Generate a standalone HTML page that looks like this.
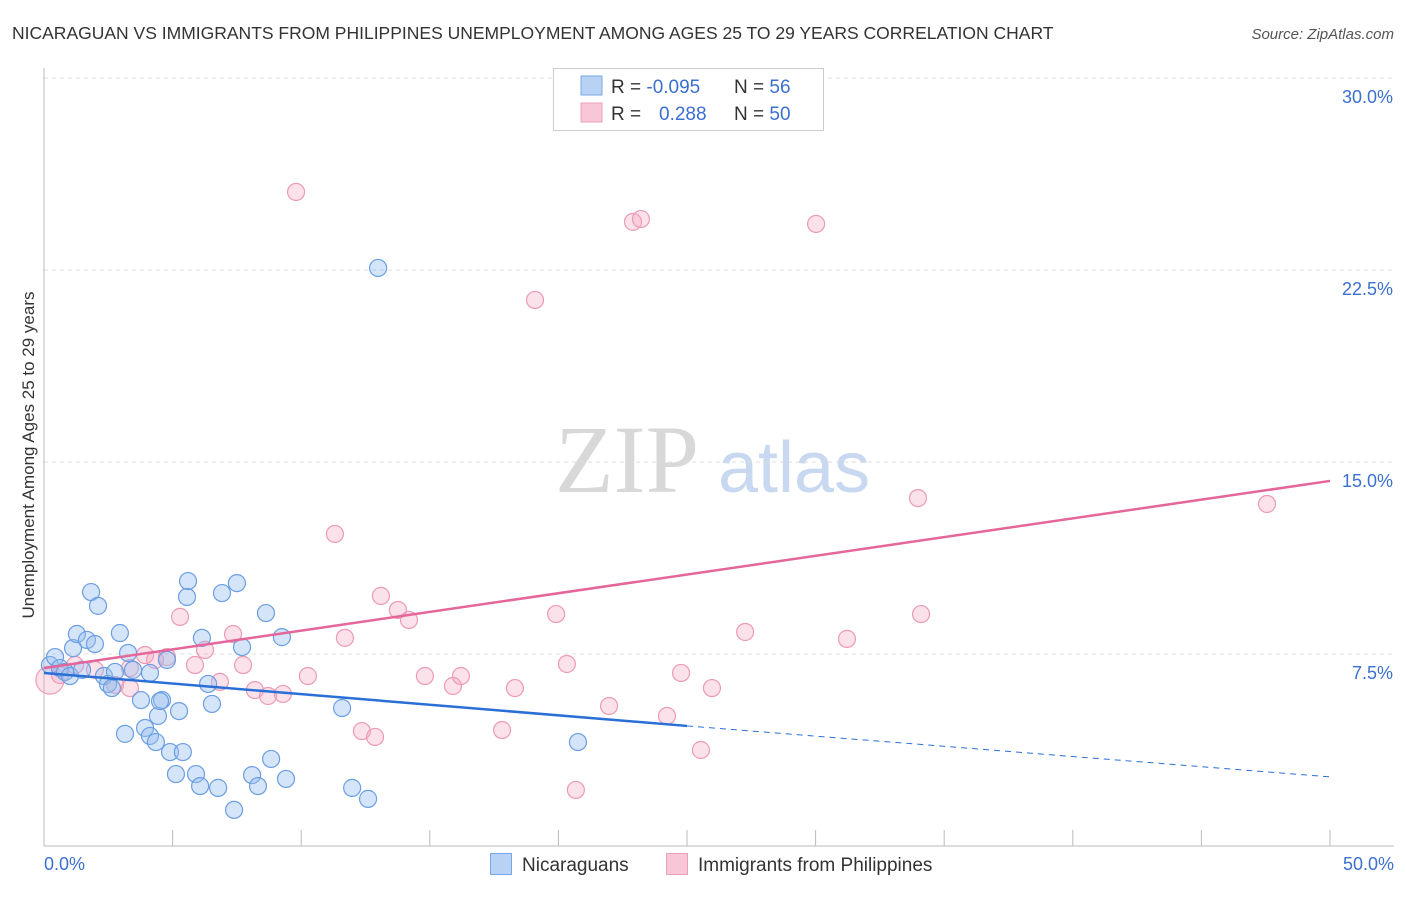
<!DOCTYPE html>
<html><head><meta charset="utf-8"><style>
body{margin:0;background:#fff;font-family:"Liberation Sans",sans-serif;}
#c{position:relative;width:1406px;height:892px;}
</style></head><body>
<div id="c">
<svg id="s" width="1406" height="892" xmlns="http://www.w3.org/2000/svg">
<text x="12" y="39" font-size="17.5" fill="#333">NICARAGUAN VS IMMIGRANTS FROM PHILIPPINES UNEMPLOYMENT AMONG AGES 25 TO 29 YEARS CORRELATION CHART</text>
<text x="1394" y="39" font-size="15" fill="#555" font-style="italic" text-anchor="end">Source: ZipAtlas.com</text>
<text x="555" y="492" font-size="96" fill="#d8d8d8" font-family="Liberation Serif,serif">ZIP</text>
<text x="718" y="492" font-size="72" fill="#c8d8f0">atlas</text>
<text transform="translate(34,455) rotate(-90)" font-size="17" fill="#333" text-anchor="middle">Unemployment Among Ages 25 to 29 years</text>
<g id="grid"></g><g id="pts"></g><g id="lines"></g>
<g>
<rect x="553.5" y="68.5" width="270" height="62" fill="#fff" stroke="#ccc"/>
<rect x="581" y="76" width="21" height="19" fill="#b8d2f4" stroke="#7aa8e6"/>
<rect x="581" y="103" width="21" height="19" fill="#f8c6d6" stroke="#eba0bb"/>
<text x="611" y="93" font-size="19" fill="#333">R = <tspan fill="#3b6fd0">-0.095</tspan><tspan x="734">N = </tspan><tspan fill="#3b6fd0">56</tspan></text>
<text x="611" y="120" font-size="19" fill="#333">R = <tspan x="659" fill="#3b6fd0">0.288</tspan><tspan x="734">N = </tspan><tspan fill="#3b6fd0">50</tspan></text>
</g>
<g>
<rect x="490.5" y="853.5" width="21" height="21" fill="#b8d2f4" stroke="#7aa8e6"/>
<text x="522" y="871" font-size="19" fill="#333">Nicaraguans</text>
<rect x="666.5" y="853.5" width="21" height="21" fill="#f8c6d6" stroke="#eba0bb"/>
<text x="698" y="871" font-size="19" fill="#333">Immigrants from Philippines</text>
</g>
</svg>
</div>
<script>
const yTicks=[7.5,15,22.5,30];
const yTickLabels=["7.5%","15.0%","22.5%","30.0%"];
const xTickLabels=["0.0%","50.0%"];
const blueX=[0.23,0.43,0.62,0.82,1.01,1.13,1.28,1.48,1.67,1.83,1.98,2.10,2.33,2.49,2.64,2.76,2.95,3.15,3.27,3.46,3.77,3.93,4.12,4.12,4.35,4.43,4.59,4.78,4.90,5.13,5.25,5.40,5.56,5.60,5.91,6.07,6.14,6.38,6.53,6.77,6.92,7.39,7.50,7.70,8.09,8.32,8.63,9.25,8.83,9.41,11.59,11.98,12.60,12.99,20.76,4.51];
const blueY=[7.07,7.38,6.95,6.80,6.64,7.73,8.28,6.88,8.05,9.92,7.89,9.38,6.64,6.33,6.17,6.80,8.32,4.38,7.54,6.88,5.70,4.61,6.76,4.30,4.06,5.08,5.70,7.27,3.67,2.81,5.27,3.67,9.73,10.35,2.81,2.34,8.13,6.33,5.55,2.27,9.88,1.41,10.27,7.77,2.77,2.34,9.10,8.16,3.40,2.62,5.39,2.27,1.84,22.58,4.06,5.66];
const pinkX=[0.23,0.62,1.21,1.98,2.76,3.34,3.34,3.93,4.32,4.78,5.29,5.87,6.26,6.84,7.35,7.74,8.20,8.71,9.29,9.80,10.26,11.31,11.70,12.36,12.87,13.10,13.76,14.19,14.81,15.90,16.21,17.81,18.31,19.09,19.91,20.33,20.68,21.97,22.90,23.21,24.22,24.77,25.54,25.97,27.26,30.02,31.22,33.98,34.10,47.55];
const pinkY=[6.48,6.68,7.07,6.88,6.29,6.95,6.17,7.46,7.27,7.38,8.95,7.07,7.66,6.41,8.28,7.07,6.09,5.86,5.94,25.55,6.64,12.19,8.13,4.49,4.26,9.77,9.22,8.83,6.64,6.25,6.64,4.53,6.17,21.33,9.06,7.11,2.19,5.47,24.38,24.49,5.08,6.76,3.75,6.17,8.36,24.30,8.09,13.59,9.06,13.36];
const blueLine=[6.76,4.69,2.70]; // at x=0,25,50
const pinkLine=[6.95,14.26]; // at x=0,50
const NS="http://www.w3.org/2000/svg";
const X=v=>44+v*25.72, Y=v=>846-v*25.6;
function mk(t,a,p){const e=document.createElementNS(NS,t);for(const k in a)e.setAttribute(k,a[k]);p.appendChild(e);return e;}
const g=document.getElementById('grid');
yTicks.forEach((t,i)=>{
 const l=mk('line',{x1:44,x2:1394,y1:Y(t),y2:Y(t),stroke:'#ddd','stroke-dasharray':'4,4'},g);
 
 
 const tx=mk('text',{x:1393,y:Y(t)+25,'font-size':18,fill:'#3b6fd0','text-anchor':'end'},g);
 tx.textContent=yTickLabels[i];
 
 
});
const ax=mk('line',{x1:44,x2:44,y1:68,y2:846,stroke:'#bbb'},g);


const bx=mk('line',{x1:44,x2:1394,y1:846,y2:846,stroke:'#bbb'},g);


for(let i=1;i<=10;i++){const t=mk('line',{x1:X(i*5),x2:X(i*5),y1:830,y2:846,stroke:'#bbb'},g);
 
 }
[[0,'start',44],[1,'end',1394]].forEach(([i,a,x])=>{const t=mk('text',{x:x,y:870,'font-size':18,fill:'#3b6fd0','text-anchor':a},g);t.textContent=xTickLabels[i];
 
 });
const p=document.getElementById('pts');
pinkX.forEach((x,i)=>{const c=mk('circle',{cx:X(x),cy:Y(pinkY[i]),r:i==0?14:8.5,fill:'rgba(244,168,194,0.35)',stroke:'#ec9ab6','stroke-width':1.2},p);
 
 });
blueX.forEach((x,i)=>{const c=mk('circle',{cx:X(x),cy:Y(blueY[i]),r:8.5,fill:'rgba(150,190,240,0.4)',stroke:'#6b9ee2','stroke-width':1.2},p);
 
 });
const L=document.getElementById('lines');
const b1=mk('line',{x1:X(0),y1:Y(blueLine[0]),x2:X(25),y2:Y(blueLine[1]),stroke:'#2a6fd6','stroke-width':2.5},L);


const b2=mk('line',{x1:X(25),y1:Y(blueLine[1]),x2:X(50),y2:Y(blueLine[2]),stroke:'#2a6fd6','stroke-width':1,'stroke-dasharray':'6,5'},L);


const p1=mk('line',{x1:X(0),y1:Y(pinkLine[0]),x2:X(50),y2:Y(pinkLine[1]),stroke:'#e4669a','stroke-width':2.5},L);


</script>
</body></html>
